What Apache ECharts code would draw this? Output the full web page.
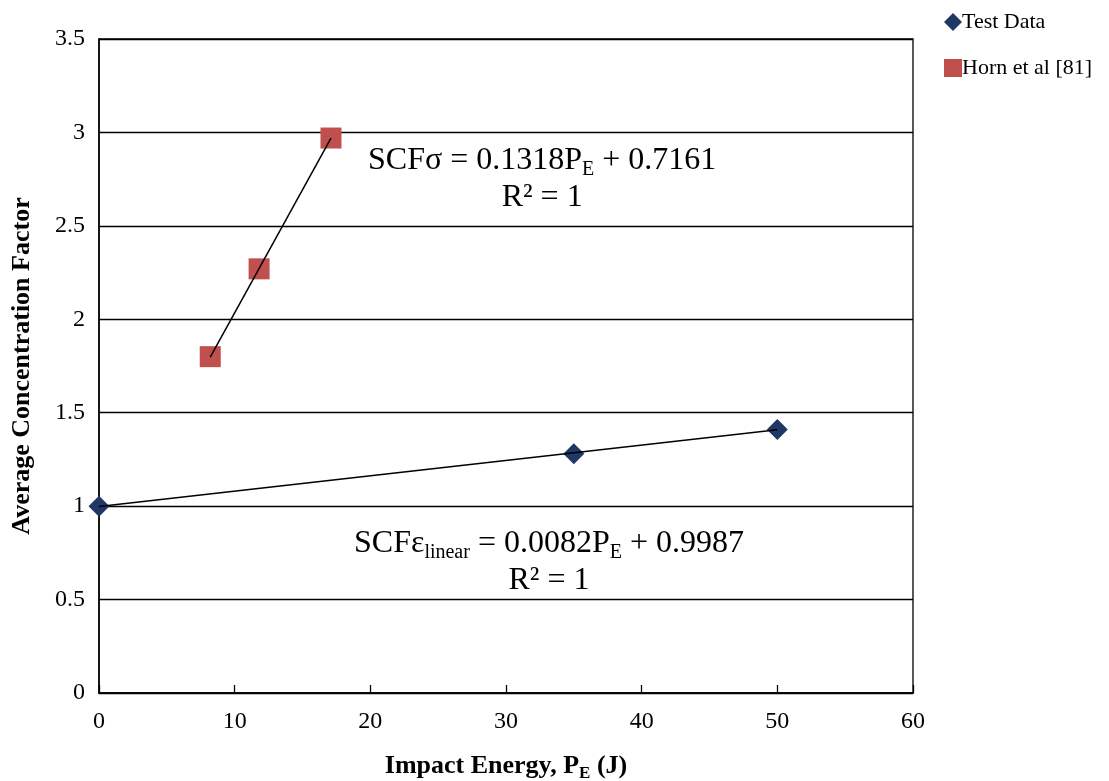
<!DOCTYPE html>
<html><head><meta charset="utf-8">
<script src="https://cdn.jsdelivr.net/npm/echarts@6/dist/echarts.min.js"></script>
<style>html,body{margin:0;padding:0;background:#fff}#c{width:1109px;height:781px}</style>
</head><body><div id="c"></div>
<script>
const xTicks = [0, 10, 20, 30, 40, 50, 60];
const yTicks = [0, 0.5, 1, 1.5, 2, 2.5, 3, 3.5];
const testData = [[0, 1.0], [35, 1.28], [50, 1.41]];
const hornData = [[8.2, 1.80], [11.8, 2.27], [17.1, 2.97]];
const testTrend = [[0, 0.9987], [50, 1.4087]];
const hornTrend = [[8.2, 1.797], [17.1, 2.970]];
const seriesNames = ['Test Data', 'Horn et al [81]'];

const FONT = '"Liberation Serif", "Times New Roman", serif';
const chart = echarts.init(document.getElementById('c'));
chart.setOption({
  animation: false,
  backgroundColor: '#fff',
  textStyle: { fontFamily: FONT, color: '#000' },
  grid: { left: 99, right: 196, top: 39, bottom: 88, show: true, borderColor: '#000', borderWidth: 1.3,
          containLabel: false, outerBoundsMode: 'none' },
  legend: {
    data: seriesNames.map((n, i) => ({ name: n, icon: i === 0 ? 'diamond' : 'rect' })),
    orient: 'vertical', left: 939, top: 6, itemGap: 24, itemWidth: 18, itemHeight: 18,
    textStyle: { fontFamily: FONT, fontSize: 22, color: '#000', padding: [0, 0, 0, -5] }
  },
  xAxis: {
    type: 'value', min: xTicks[0], max: xTicks[xTicks.length - 1], interval: 10,
    axisLine: { show: true, lineStyle: { color: '#000', width: 1.5 } },
    axisTick: { show: true, inside: true, length: 8, lineStyle: { color: '#000', width: 1.3 } },
    splitLine: { show: false },
    axisLabel: { fontFamily: FONT, fontSize: 24, color: '#000', margin: 17 },
    name: '{b|Impact Energy, P}{s|E}{b| (J)}', nameLocation: 'middle', nameGap: 58,
    nameTextStyle: { rich: {
      b: { fontFamily: FONT, fontSize: 26, fontWeight: 'bold', color: '#000' },
      s: { fontFamily: FONT, fontSize: 17, fontWeight: 'bold', color: '#000', padding: [14, 0, 0, 0] }
    } }
  },
  yAxis: {
    type: 'value', min: yTicks[0], max: yTicks[yTicks.length - 1], interval: 0.5,
    axisLine: { show: true, lineStyle: { color: '#000', width: 1.5 } },
    axisTick: { show: false },
    splitLine: { show: true, lineStyle: { color: '#000', width: 1.3 } },
    axisLabel: { fontFamily: FONT, fontSize: 24, color: '#000', margin: 14 },
    name: 'Average Concentration Factor', nameLocation: 'middle', nameGap: 64,
    nameTextStyle: { fontFamily: FONT, fontSize: 26, fontWeight: 'bold', color: '#000' }
  },
  series: [
    { name: seriesNames[0], type: 'scatter', data: testData, symbol: 'diamond', symbolSize: 21,
      itemStyle: { color: '#1F3864', opacity: 1 }, z: 3 },
    { name: seriesNames[1], type: 'scatter', data: hornData, symbol: 'rect', symbolSize: 21,
      itemStyle: { color: '#C0504D', opacity: 1 }, z: 3 },
    { name: 'testTrend', type: 'line', data: testTrend, symbol: 'none', z: 5,
      lineStyle: { color: '#000', width: 1.5 } },
    { name: 'hornTrend', type: 'line', data: hornTrend, symbol: 'none', z: 5,
      lineStyle: { color: '#000', width: 1.5 } }
  ],
  graphic: [
    { type: 'text', left: 368, top: 142, z: 10, style: {
      text: '{t|SCFσ = 0.1318P}{s|E}{t| + 0.7161}\n{t|R² = 1}', align: 'center',
      rich: {
        t: { fontFamily: FONT, fontSize: 32, color: '#000', lineHeight: 37, align: 'center' },
        s: { fontFamily: FONT, fontSize: 20, color: '#000', padding: [18, 0, 0, 0], lineHeight: 37 }
      } } },
    { type: 'text', left: 354, top: 525, z: 10, style: {
      text: '{t|SCFε}{s|linear}{t| = 0.0082P}{s|E}{t| + 0.9987}\n{t|R² = 1}', align: 'center',
      rich: {
        t: { fontFamily: FONT, fontSize: 32, color: '#000', lineHeight: 37, align: 'center' },
        s: { fontFamily: FONT, fontSize: 20, color: '#000', padding: [18, 0, 0, 0], lineHeight: 37 }
      } } }
  ]
});
</script></body></html>
